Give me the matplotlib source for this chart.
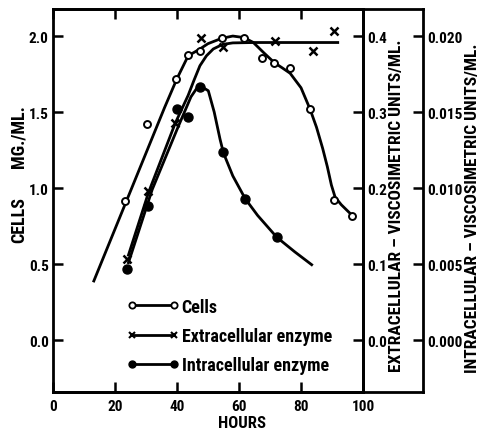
import matplotlib
matplotlib.use('Agg')
import matplotlib.pyplot as plt
from matplotlib.lines import Line2D

# ---- data ----
# measured points
cells_hours = [23.3, 30.3, 39.8, 43.6, 47.4, 54.4, 61.6, 67.5, 71.4, 76.5, 82.9, 90.7, 96.6]
cells_mg = [0.917, 1.42, 1.72, 1.877, 1.904, 1.987, 1.99, 1.855, 1.825, 1.789, 1.52, 0.923, 0.818]

extra_hours = [23.8, 30.8, 39.5, 47.7, 54.7, 71.6, 84.0, 90.7]
extra_units = [0.106, 0.196, 0.285, 0.397, 0.385, 0.393, 0.380, 0.407]

intra_hours = [23.8, 30.8, 39.9, 43.4, 47.4, 54.9, 61.9, 72.2]
intra_units = [0.00470, 0.00880, 0.01522, 0.01465, 0.01665, 0.01234, 0.00930, 0.00676]

# hand drawn fitted curves
cells_curve_h = [13, 23.4, 30, 36, 40, 43.6, 47.4, 50, 54.4, 58, 61.6, 64.6, 68, 71.4,
                 74, 76.5, 80, 82.9, 85, 87, 88.5, 89.8, 91, 93, 96.6]
cells_curve = [0.38, 0.90, 1.23, 1.53, 1.72, 1.87, 1.915, 1.95, 1.985, 2.0, 1.99, 1.958,
               1.89, 1.825, 1.79, 1.755, 1.66, 1.52, 1.40, 1.26, 1.14, 1.02, 0.94, 0.89, 0.818]

extra_curve_h = [24.2, 30.8, 39.4, 43.6, 45.5, 47.4, 49.5, 51.7, 54.7, 58, 65, 75, 85, 92.3]
extra_curve = [0.110, 0.194, 0.285, 0.322, 0.342, 0.361, 0.374, 0.383, 0.389, 0.391,
               0.3915, 0.3915, 0.3915, 0.3915]

intra_curve_h = [24.2, 32.0, 40.1, 44.5, 46.5, 47.4, 48.5, 50.1, 52, 53.9, 55, 58, 62, 66, 72.2, 78, 83.8]
intra_curve = [0.0050, 0.0099, 0.0139, 0.0160, 0.0166, 0.01669, 0.0166, 0.0164, 0.0150,
               0.0132, 0.0123, 0.0108, 0.0093, 0.0082, 0.00676, 0.0058, 0.0049]

x_ticks = [0, 20, 40, 60, 80, 100]
cells_ticks = [0.0, 0.5, 1.0, 1.5, 2.0]
extra_ticks = [0.0, 0.1, 0.2, 0.3, 0.4]
intra_ticks = [0.000, 0.005, 0.010, 0.015, 0.020]

FONT = ['Roboto Condensed', 'DejaVu Sans']
plt.rcParams['font.family'] = FONT
plt.rcParams['font.weight'] = 'bold'

W, H = 482, 431
fig = plt.figure(figsize=(W / 100, H / 100), dpi=100)

# pixel geometry of the frame
x0, x1, x2 = 53, 363, 423
ytop, ybot = 10, 393
bx = x0 / W
by = (H - ybot) / H
bh = (ybot - ytop) / H

# outer frame (top/bottom run on past the right axis)
frame = fig.add_axes([bx, by, (x2 - x0) / W, bh])
frame.set_xticks([])
frame.set_yticks([])
for s in ['left', 'right']:
    frame.spines[s].set_visible(False)
for s in ['top', 'bottom']:
    frame.spines[s].set_linewidth(2.0)
frame.patch.set_alpha(0)

ax = fig.add_axes([bx, by, (x1 - x0) / W, bh])
ax.patch.set_alpha(0)
ax2 = ax.twinx()
ax3 = ax.twinx()
ax3.spines['right'].set_position(('axes', (x2 - x0) / (x1 - x0)))

ylo, yhi = -0.342, 2.178
ax.set_xlim(0, 100)
ax.set_ylim(ylo, yhi)
ax2.set_ylim(ylo / 5, yhi / 5)
ax3.set_ylim(ylo / 100, yhi / 100)

for a in (ax, ax2, ax3):
    for s in a.spines.values():
        s.set_linewidth(2.0)
ax2.spines['left'].set_visible(False)
ax3.spines['left'].set_visible(False)
for a in (ax2, ax3):
    a.spines['top'].set_visible(False)
    a.spines['bottom'].set_visible(False)

lw = 2.0
# curves
ax.plot(cells_curve_h, cells_curve, color='black', lw=lw, solid_capstyle='butt')
ax2.plot(extra_curve_h, extra_curve, color='black', lw=lw, solid_capstyle='butt')
ax3.plot(intra_curve_h, intra_curve, color='black', lw=lw, solid_capstyle='butt')

# points
ax.plot(cells_hours, cells_mg, 'o', ms=5, mfc='white', mec='black', mew=1.4)
ax2.plot(extra_hours, extra_units, 'x', ms=6, mec='black', mew=1.8)
ax3.plot(intra_hours, intra_units, 'o', ms=6.5, color='black')

tick_fs = 11
ax.set_xticks(x_ticks)
ax.set_xticklabels([str(t) for t in x_ticks], fontsize=tick_fs, fontweight='bold')
ax.set_yticks(cells_ticks)
ax.set_yticklabels(['%.1f' % t for t in cells_ticks], fontsize=tick_fs, fontweight='bold')
ax.tick_params(axis='x', direction='in', length=7, width=1.8, top=True, pad=5)
ax.tick_params(axis='y', direction='in', length=7, width=1.8, pad=3)

ax2.set_yticks(extra_ticks)
ax2.set_yticklabels(['%.1f' % t for t in extra_ticks], fontsize=tick_fs, fontweight='bold')
ax3.set_yticks(intra_ticks)
ax3.set_yticklabels(['%.3f' % t for t in intra_ticks], fontsize=tick_fs, fontweight='bold')

# ticks on the right axes stick out to the left of their spines
for a in (ax2, ax3):
    a.tick_params(axis='y', direction='in', length=7, width=1.8, pad=3)

lab_fs = 12.5
fig.text(242 / W, 1 - 424 / H, 'HOURS', ha='center', va='center', fontsize=12, fontweight='bold')
fig.text(19 / W, 1 - 220 / H, 'CELLS', rotation=90, ha='center', va='center',
         fontsize=13, fontweight='bold')
fig.text(19 / W, 1 - 137 / H, 'MG./ML.', rotation=90, ha='center', va='center',
         fontsize=13, fontweight='bold')
fig.text(396 / W, 1 - 206 / H, 'EXTRACELLULAR – VISCOSIMETRIC UNITS/ML.', rotation=90,
         ha='center', va='center', fontsize=lab_fs, fontweight='bold')
fig.text(473 / W, 1 - 208 / H, 'INTRACELLULAR – VISCOSIMETRIC UNITS/ML.', rotation=90,
         ha='center', va='center', fontsize=lab_fs, fontweight='bold')

handles = [
    Line2D([], [], color='black', lw=lw, marker='o', ms=4.5, mfc='white', mec='black', mew=1.3),
    Line2D([], [], color='black', lw=lw, marker='x', ms=5, mec='black', mew=1.5),
    Line2D([], [], color='black', lw=lw, marker='o', ms=5),
]
labels = ['Cells', 'Extracellular enzyme', 'Intracellular enzyme']
fig.legend(handles, labels, loc='center left', bbox_to_anchor=(127 / W, 1 - 337 / H),
           frameon=False, numpoints=2, handlelength=2.9, handletextpad=0.12,
           labelspacing=0.62, borderpad=0, borderaxespad=0,
           prop={'family': FONT, 'weight': 'bold', 'size': 13})

fig.savefig('out.png', dpi=100)
